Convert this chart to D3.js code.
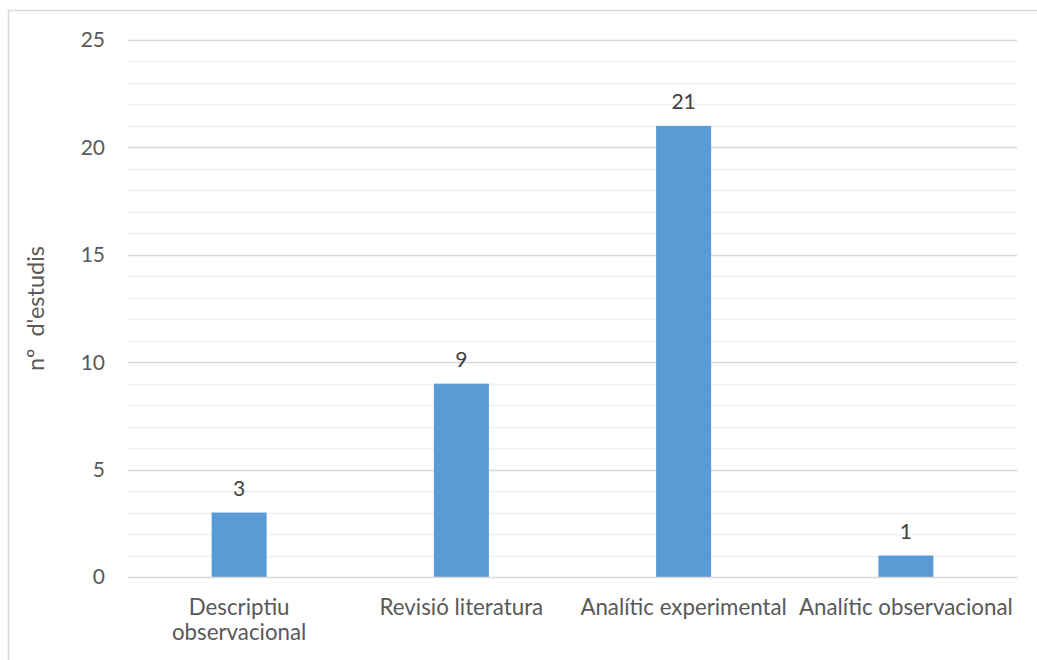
<!DOCTYPE html>
<html>
<head>
<meta charset="utf-8">
<script src="https://cdn.jsdelivr.net/npm/d3@7"></script>
<style>
  html, body { margin: 0; padding: 0; background: #fff; }
  svg { display: block; }
</style>
</head>
<body>
<svg id="chart" width="1037" height="660"></svg>
<script>
// Study types and the number of studies of each
const categories = [["Descriptiu", "observacional"], ["Revisió literatura"], ["Analític experimental"], ["Analític observacional"]];
const counts = [3, 9, 21, 1];
const yTicks = [0, 5, 10, 15, 20, 25];
const yTitle = "nº  d'estudis";

const W = 1037, H = 660;
const margin = { left: 128, right: 20, top: 40, bottom: 83 };
const font = "Lato, 'Open Sans', sans-serif";
const textColor = "#595959";

const svg = d3.select("#chart");

// chart frame (only top and left edges fall inside the view)
svg.append("rect")
  .attr("x", 8.5).attr("y", 10.5)
  .attr("width", W + 20).attr("height", H + 20)
  .attr("fill", "none").attr("stroke", "#d9d9d9").attr("stroke-width", 1.5);

const x = d3.scaleBand()
  .domain(d3.range(categories.length))
  .range([margin.left, W - margin.right])
  .paddingInner(0).paddingOuter(0);

const y = d3.scaleLinear().domain([0, 25]).range([H - margin.bottom, margin.top]);

// minor gridlines at every unit
svg.append("g").selectAll("line")
  .data(d3.range(1, 25).filter(v => v % 5 !== 0))
  .join("line")
  .attr("x1", margin.left).attr("x2", W - margin.right)
  .attr("y1", d => Math.round(y(d)) + 0.5).attr("y2", d => Math.round(y(d)) + 0.5)
  .attr("stroke", "#f0f0f0").attr("stroke-width", 1.3);

// major gridlines
svg.append("g").selectAll("line")
  .data(yTicks.filter(v => v !== 0))
  .join("line")
  .attr("x1", margin.left).attr("x2", W - margin.right)
  .attr("y1", d => Math.round(y(d)) + 0.5).attr("y2", d => Math.round(y(d)) + 0.5)
  .attr("stroke", "#d9d9d9").attr("stroke-width", 1.3);

// y tick labels
svg.append("g").selectAll("text")
  .data(yTicks)
  .join("text")
  .attr("x", 105).attr("y", d => y(d))
  .attr("dy", "0.35em")
  .attr("text-anchor", "end")
  .attr("font-family", font).attr("font-size", 21)
  .attr("fill", textColor)
  .text(d => d);

// bars
const barW = 55;
svg.append("g").selectAll("rect")
  .data(counts)
  .join("rect")
  .attr("x", (d, i) => x(i) + x.bandwidth() / 2 - barW / 2)
  .attr("y", d => y(d))
  .attr("width", barW)
  .attr("height", d => y(0) - y(d))
  .attr("fill", "#5b9bd5");

// baseline
svg.append("line")
  .attr("x1", margin.left).attr("x2", W - margin.right)
  .attr("y1", Math.round(y(0)) + 0.5).attr("y2", Math.round(y(0)) + 0.5)
  .attr("stroke", "#d9d9d9").attr("stroke-width", 1.5);

// value labels
svg.append("g").selectAll("text")
  .data(counts)
  .join("text")
  .attr("x", (d, i) => x(i) + x.bandwidth() / 2)
  .attr("y", d => y(d) - 17)
  .attr("text-anchor", "middle")
  .attr("font-family", font).attr("font-size", 21)
  .attr("fill", "#404040")
  .text(d => d);

// category labels
const catG = svg.append("g");
categories.forEach((lines, i) => {
  const t = catG.append("text")
    .attr("x", x(i) + x.bandwidth() / 2)
    .attr("y", 615)
    .attr("text-anchor", "middle")
    .attr("font-family", font).attr("font-size", 22.3)
    .attr("fill", textColor);
  lines.forEach((ln, j) => {
    t.append("tspan")
      .attr("x", x(i) + x.bandwidth() / 2)
      .attr("dy", j === 0 ? 0 : 25)
      .text(ln);
  });
});

// y axis title
svg.append("text")
  .attr("transform", `translate(44, ${(y(0) + y(25)) / 2}) rotate(-90)`)
  .attr("text-anchor", "middle")
  .attr("font-family", font).attr("font-size", 23.5)
  .attr("fill", textColor)
  .style("white-space", "pre")
  .text(yTitle);
</script>
</body>
</html>
